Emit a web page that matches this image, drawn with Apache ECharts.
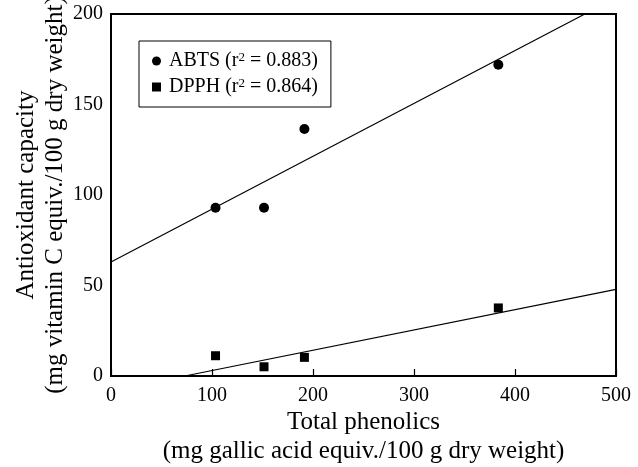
<!DOCTYPE html>
<html>
<head>
<meta charset="utf-8">
<script src="https://cdn.jsdelivr.net/npm/echarts@6/dist/echarts.min.js"></script>
<style>
  html, body { margin: 0; padding: 0; background: #fff; }
  #chart { width: 638px; height: 467px; }
</style>
</head>
<body>
<div id="chart"></div>
<script>
// measured points (x = total phenolics, y = antioxidant capacity)
const phenolics = [103.5, 151.5, 191.5, 383.5];
const abts = [93, 93, 136.5, 172];
const dpph = [11.2, 5.1, 10.3, 37.6];
const seriesNames = ['ABTS', 'DPPH'];
const r2 = ['0.883', '0.864'];
// fitted lines: [slope, intercept]
const abtsFit = [0.292, 63];
const dpphFit = [0.1122, -8.2];

const xMax = 500, yMax = 200;
const font = 'Liberation Serif';

// clip a fitted line to the plot box
function fitLine(fit) {
  const [m, b] = fit;
  let x0 = 0, x1 = xMax;
  if (b < 0) x0 = -b / m;
  if (m * xMax + b > yMax) x1 = (yMax - b) / m;
  return [[x0, m * x0 + b], [x1, m * x1 + b]];
}

const chart = echarts.init(document.getElementById('chart'));

chart.setOption({
  animation: false,
  backgroundColor: '#fff',
  grid: {
    left: 111, right: 22, top: 14, bottom: 91,
    containLabel: false,
    outerBoundsMode: 'none',
    show: true, borderColor: '#000', borderWidth: 2
  },
  legend: {
    orient: 'vertical',
    left: 139, top: 41,
    padding: [10, 13, 10, 13],
    itemGap: 6,
    itemWidth: 9, itemHeight: 9,
    borderColor: '#000', borderWidth: 1,
    data: [
      { name: 'ABTS', icon: 'circle' },
      { name: 'DPPH', icon: 'rect', itemStyle: { color: '#000' } }
    ],
    formatter: (name) => {
      const i = seriesNames.indexOf(name);
      return '{g|}{t|' + name + ' (r}{s|2}{t| = ' + r2[i] + ')}';
    },
    textStyle: {
      rich: {
        g: { width: 3 },
        t: { fontFamily: font, fontSize: 20, color: '#000', lineHeight: 20 },
        s: { fontFamily: font, fontSize: 13, color: '#000', verticalAlign: 'top', lineHeight: 10, padding: [0, 0, 4, 0] }
      }
    }
  },
  xAxis: {
    type: 'value',
    min: 0, max: xMax, interval: 100,
    name: 'Total phenolics\n(mg gallic acid equiv./100 g dry weight)',
    nameLocation: 'middle',
    nameGap: 32,
    nameMoveOverlap: false,
    nameTextStyle: { fontFamily: font, fontSize: 25, color: '#000', lineHeight: 29 },
    axisLine: { lineStyle: { color: '#000', width: 2 } },
    axisTick: { inside: true, length: 7, lineStyle: { color: '#000', width: 1.2 } },
    axisLabel: { fontFamily: font, fontSize: 20, color: '#000', margin: 10 },
    splitLine: { show: false }
  },
  yAxis: {
    type: 'value',
    min: 0, max: yMax, interval: 50,
    name: 'Antioxidant capacity\n(mg vitamin C equiv./100 g dry weight)',
    nameLocation: 'middle',
    nameGap: 41,
    nameMoveOverlap: false,
    nameTextStyle: { fontFamily: font, fontSize: 25, color: '#000', lineHeight: 29 },
    axisLine: { lineStyle: { color: '#000', width: 2 } },
    axisTick: { show: false },
    axisLabel: { fontFamily: font, fontSize: 20, color: '#000', margin: 8 },
    splitLine: { show: false }
  },
  series: [
    {
      name: 'ABTS', type: 'scatter', symbol: 'circle', symbolSize: 10,
      itemStyle: { color: '#000', opacity: 1 },
      data: phenolics.map((x, i) => [x, abts[i]]), z: 3
    },
    {
      name: 'DPPH', type: 'scatter', symbol: 'rect', symbolSize: 9,
      itemStyle: { color: '#000', opacity: 1 },
      data: phenolics.map((x, i) => [x, dpph[i]]), z: 3
    },
    {
      name: 'ABTS fit', type: 'line', symbol: 'none', silent: true,
      lineStyle: { color: '#000', width: 1.2 },
      data: fitLine(abtsFit)
    },
    {
      name: 'DPPH fit', type: 'line', symbol: 'none', silent: true,
      lineStyle: { color: '#000', width: 1.2 },
      data: fitLine(dpphFit)
    }
  ]
});
</script>
</body>
</html>
